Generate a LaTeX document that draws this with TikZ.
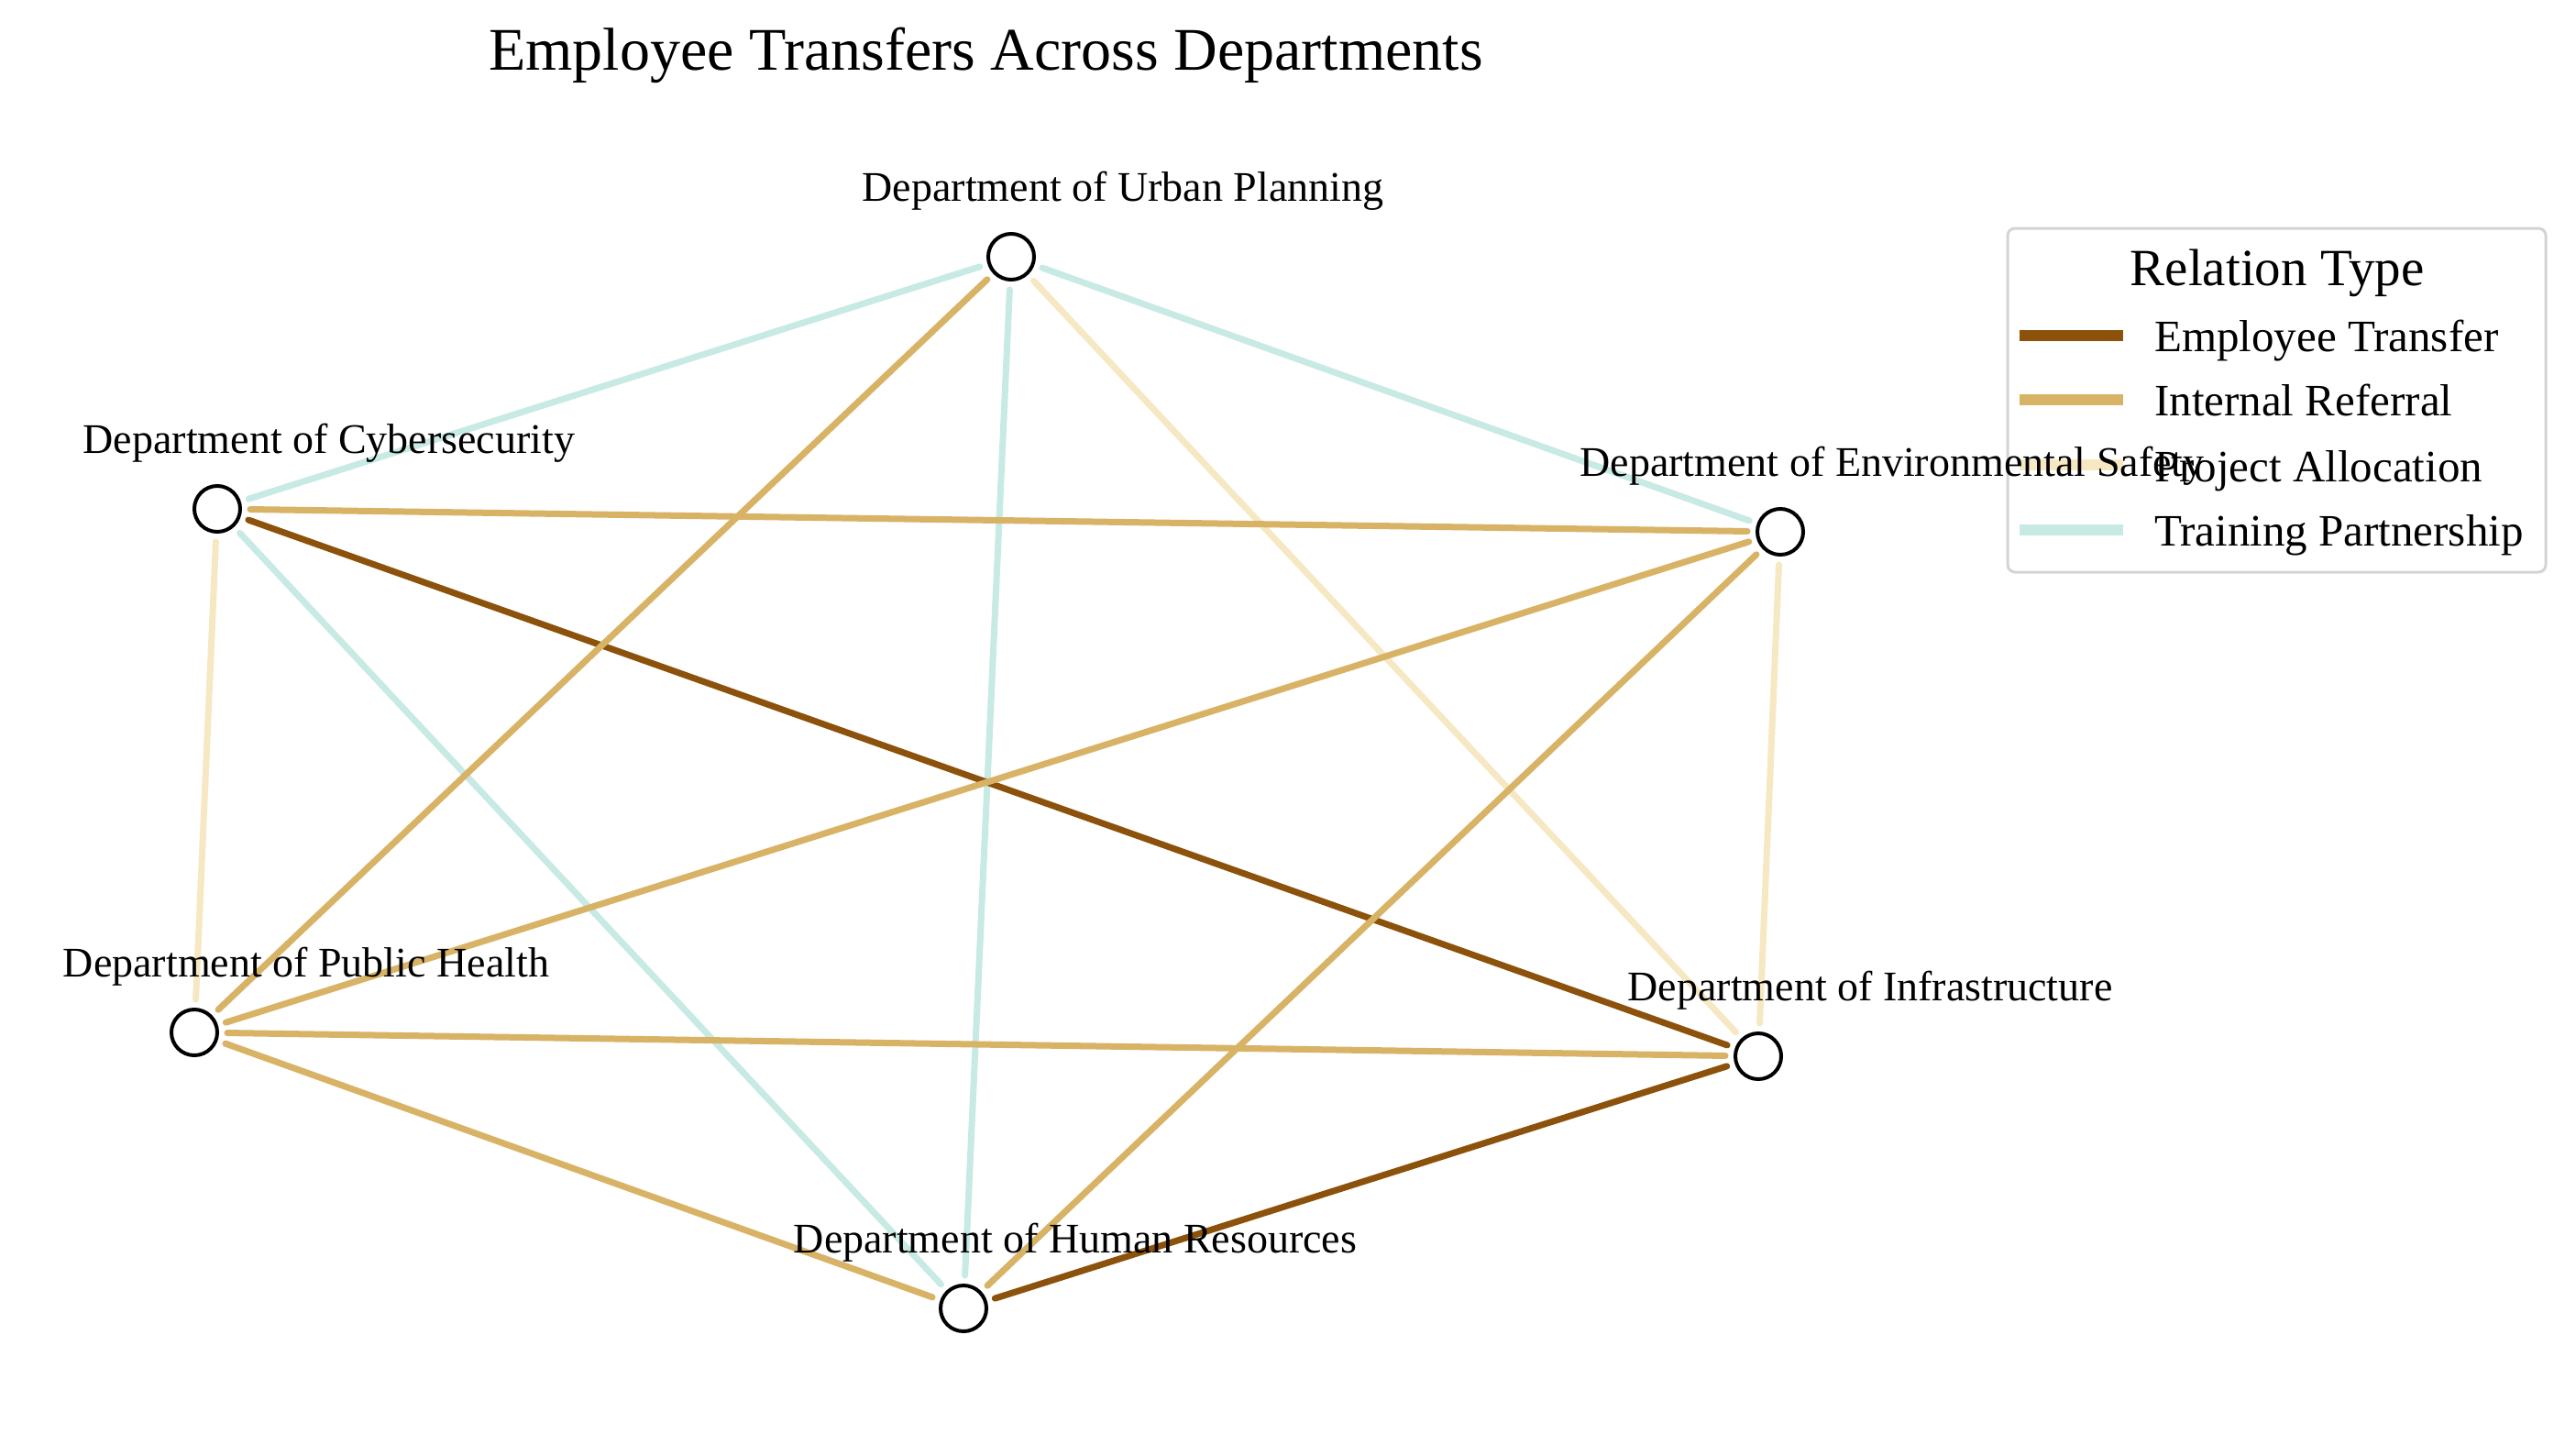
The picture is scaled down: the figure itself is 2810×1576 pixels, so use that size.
\documentclass[tikz,border=0pt]{standalone}
\usepackage{fontspec}
\setmainfont{Liberation Serif}
\usetikzlibrary{backgrounds}

\definecolor{cTransfer}{HTML}{8C510A}
\definecolor{cReferral}{HTML}{D8B365}
\definecolor{cProject}{HTML}{F6E8C3}
\definecolor{cTraining}{HTML}{C7EAE5}
\definecolor{legendgray}{RGB}{212,212,212}

\begin{document}
\begin{tikzpicture}[x=1pt,y=-1pt,
  dept/.style={circle, draw=black, line width=4pt, fill=white, minimum size=50pt, inner sep=0pt},
  deptlabel/.style={font=\fontsize{46}{50}\selectfont, anchor=base, inner sep=0pt},
  rel/.style={line width=7pt, line cap=round, shorten >=36pt, shorten <=36pt},
  transfer/.style={rel, draw=cTransfer},
  referral/.style={rel, draw=cReferral},
  project/.style={rel, draw=cProject},
  training/.style={rel, draw=cTraining},
  legsample/.style={line width=12pt},
  legtext/.style={font=\fontsize{49}{52}\selectfont, anchor=base west, inner sep=0pt},
]
\useasboundingbox (0,0) rectangle (2810,1576);

% title
\node[anchor=base west, inner sep=0pt, font=\fontsize{66}{70}\selectfont] (title) at (533,77)
  {Employee Transfers Across Departments};

% departments
\node[dept] (urban)  at (1103,280)  {};
\node[dept] (cyber)  at (237,555)   {};
\node[dept] (env)    at (1942,580)  {};
\node[dept] (health) at (212,1126)  {};
\node[dept] (infra)  at (1918,1152) {};
\node[dept] (hr)     at (1051,1427) {};

% relations, behind the department markers
\begin{scope}[on background layer]
  \fill[white] (0,0) rectangle (2810,1576);
  \draw[training] (urban.center) -- (cyber.center);
  \draw[training] (urban.center) -- (env.center);
  \draw[training] (urban.center) -- (hr.center);
  \draw[training] (cyber.center) -- (hr.center);
  \draw[project]  (urban.center) -- (infra.center);
  \draw[project]  (cyber.center) -- (health.center);
  \draw[project]  (env.center)   -- (infra.center);
  \draw[transfer] (cyber.center) -- (infra.center);
  \draw[transfer] (hr.center)    -- (infra.center);
  \draw[referral] (urban.center) -- (health.center);
  \draw[referral] (cyber.center) -- (env.center);
  \draw[referral] (env.center)   -- (health.center);
  \draw[referral] (env.center)   -- (hr.center);
  \draw[referral] (health.center) -- (infra.center);
  \draw[referral] (health.center) -- (hr.center);
\end{scope}

% legend
\draw[draw=legendgray, line width=3pt, rounded corners=8pt] (2190,249) rectangle (2777,624);
\node[anchor=base, inner sep=0pt, font=\fontsize{57}{60}\selectfont] (legtitle) at (2484,311) {Relation Type};
\draw[legsample, cTransfer] (2203,366) -- (2316,366);
\node[legtext] (legA) at (2350,383) {Employee Transfer};
\draw[legsample, cReferral] (2203,436) -- (2316,436);
\node[legtext] (legB) at (2350,453) {Internal Referral};
\draw[legsample, cProject] (2203,507) -- (2316,507);
\node[legtext] (legC) at (2350,525) {Project Allocation};
\draw[legsample, cTraining] (2203,578) -- (2316,578);
\node[legtext] (legD) at (2350,595) {Training Partnership};

% department labels
\node[deptlabel] (urbanlbl)  at (1225,219)  {Department of Urban Planning};
\node[deptlabel] (cyberlbl)  at (359,494)   {Department of Cybersecurity};
\node[deptlabel] (envlbl)    at (2064,519)  {Department of Environmental Safety};
\node[deptlabel] (healthlbl) at (334,1065)  {Department of Public Health};
\node[deptlabel] (infralbl)  at (2040,1091) {Department of Infrastructure};
\node[deptlabel] (hrlbl)     at (1173,1366) {Department of Human Resources};
\end{tikzpicture}
\end{document}
